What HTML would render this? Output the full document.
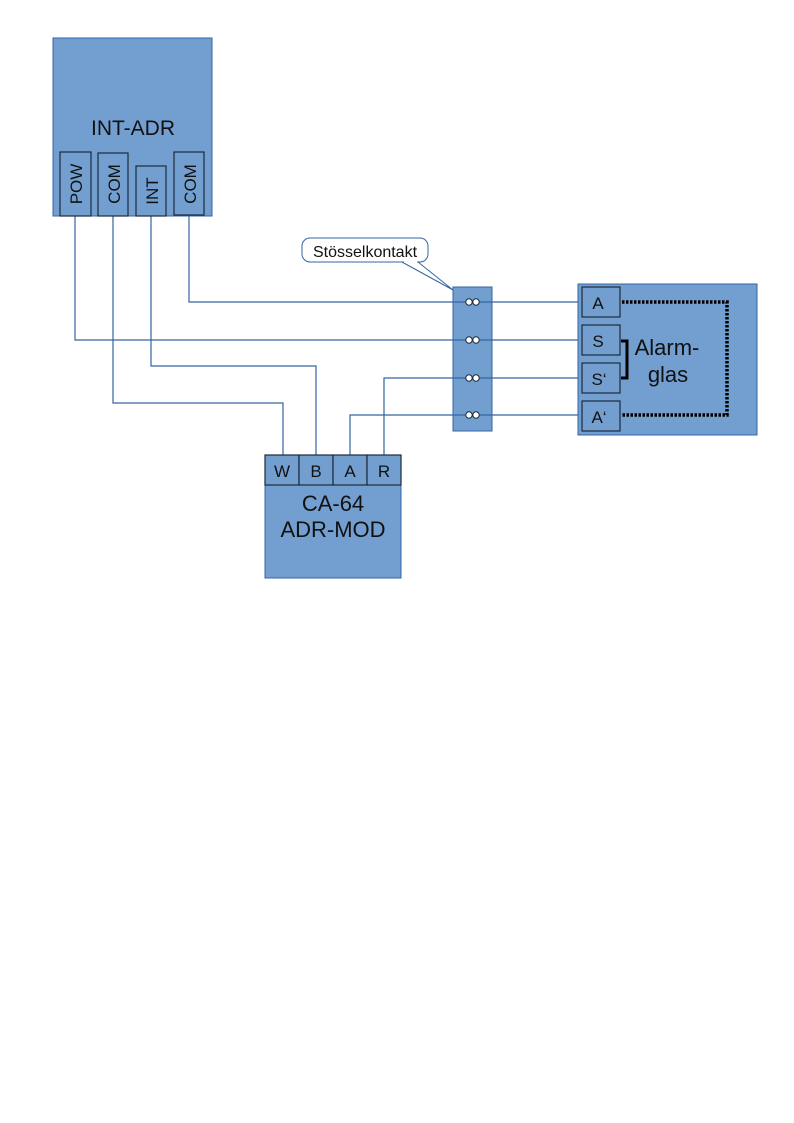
<!DOCTYPE html>
<html><head><meta charset="utf-8"><style>body{margin:0;background:#fff}svg{display:block}</style></head>
<body>
<svg width="794" height="1123" xmlns="http://www.w3.org/2000/svg" font-family="Liberation Sans, sans-serif">
<rect width="794" height="1123" fill="#fff"/>
<rect x="453" y="287" width="39" height="144" fill="#729fcf" stroke="#3465a4"/>
<g fill="none" stroke="#3465a4" stroke-width="1.2">
<polyline points="75,216 75,340 582,340"/>
<polyline points="113,216 113,403 283,403 283,455"/>
<polyline points="151,216 151,366 316,366 316,455"/>
<polyline points="189,216 189,302 582,302"/>
<polyline points="350,455 350,415 582,415"/>
<polyline points="384,455 384,378 582,378"/>
</g>
<rect x="53" y="38" width="159" height="178" fill="#729fcf" stroke="#3465a4"/>
<text x="133" y="135" font-size="21" text-anchor="middle" fill="#111">INT-ADR</text>
<g fill="#729fcf" stroke="#1c2a3a" stroke-width="1.2">
<rect x="60" y="152" width="31" height="64"/>
<rect x="98" y="153" width="30" height="63"/>
<rect x="136" y="166" width="30" height="50"/>
<rect x="174" y="152" width="30" height="63"/>
</g>
<g font-size="17" fill="#111" text-anchor="middle">
<text transform="translate(82,184) rotate(-90)">POW</text>
<text transform="translate(120,184) rotate(-90)">COM</text>
<text transform="translate(158,191) rotate(-90)">INT</text>
<text transform="translate(196,184) rotate(-90)">COM</text>
</g>
<g fill="#fff" stroke="#1c2a3a" stroke-width="1">
<circle cx="469" cy="302" r="3.2"/><circle cx="476" cy="302" r="3.2"/>
<circle cx="469" cy="340" r="3.2"/><circle cx="476" cy="340" r="3.2"/>
<circle cx="469" cy="378" r="3.2"/><circle cx="476" cy="378" r="3.2"/>
<circle cx="469" cy="415" r="3.2"/><circle cx="476" cy="415" r="3.2"/>
</g>
<path d="M402,262 L453,290 L418,262" fill="#fff" stroke="#3465a4"/>
<rect x="302" y="238" width="126" height="24" rx="8" fill="#fff" stroke="#3465a4"/>
<rect x="404" y="259" width="13" height="4" fill="#fff"/>
<text x="365" y="257" font-size="16" text-anchor="middle" fill="#111">Stösselkontakt</text>
<rect x="578" y="284" width="179" height="151" fill="#729fcf" stroke="#3465a4"/>
<g fill="#729fcf" stroke="#1c2a3a" stroke-width="1.2">
<rect x="582" y="287" width="38" height="30"/>
<rect x="582" y="325" width="38" height="30"/>
<rect x="582" y="363" width="38" height="30"/>
<rect x="582" y="401" width="38" height="30"/>
</g>
<g font-size="17" fill="#111" text-anchor="middle">
<text x="598" y="309">A</text><text x="598" y="347">S</text><text x="599" y="385">S‘</text><text x="599" y="423">A‘</text>
</g>
<polyline points="622,302 727,302 727,415 622,415" fill="none" stroke="#000" stroke-width="3.5" stroke-dasharray="2.5,1.5"/>
<polyline points="621,341 627,341 627,378 621,378" fill="none" stroke="#000" stroke-width="3"/>
<text x="667" y="355" font-size="22" text-anchor="middle" fill="#111">Alarm-</text>
<text x="668" y="382" font-size="22" text-anchor="middle" fill="#111">glas</text>
<rect x="265" y="455" width="136" height="123" fill="#729fcf" stroke="#3465a4"/>
<g fill="#729fcf" stroke="#1c2a3a" stroke-width="1.2">
<rect x="265" y="455" width="34" height="30"/><rect x="299" y="455" width="34" height="30"/>
<rect x="333" y="455" width="34" height="30"/><rect x="367" y="455" width="34" height="30"/>
</g>
<g font-size="17" fill="#111" text-anchor="middle">
<text x="282" y="477">W</text><text x="316" y="477">B</text><text x="350" y="477">A</text><text x="384" y="477">R</text>
</g>
<text x="333" y="511" font-size="22" text-anchor="middle" fill="#111">CA-64</text>
<text x="333" y="537" font-size="22" text-anchor="middle" fill="#111">ADR-MOD</text>
</svg>
</body></html>
